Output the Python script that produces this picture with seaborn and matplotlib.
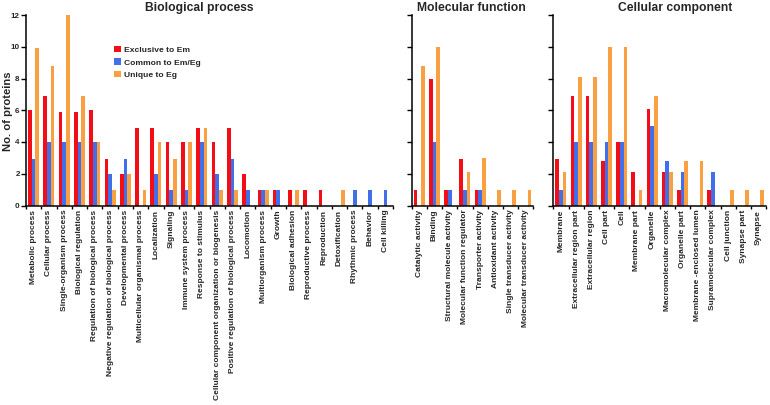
import numpy as np
import pandas as pd
import matplotlib
matplotlib.use("Agg")
import matplotlib.pyplot as plt
import seaborn as sns
from matplotlib.patches import Patch

# GO categories and protein counts
bp_terms = ["Metabolic process", "Cellular process", "Single-organism process",
            "Biological regulation", "Regulation of biological process",
            "Negative regulation of biological process", "Developmental process",
            "Multicellular organismal process", "Localization", "Signaling",
            "Immune system process", "Response to stimulus",
            "Cellular component organization or biogenesis",
            "Positive regulation of biological process", "Locomotion",
            "Multiorganism process", "Growth", "Biological adhesion",
            "Reproductive process", "Reproduction", "Detoxification",
            "Rhythmic process", "Behavior", "Cell killing"]
bp_em = [6, 6.9, 5.9, 5.9, 6, 2.9, 2, 4.9, 4.9, 4, 4, 4.9, 4, 4.9, 2, 1, 1, 1, 1, 1, 0, 0, 0, 0]
bp_common = [2.9, 4, 4, 4, 4, 2, 2.9, 0, 2, 1, 1, 4, 2, 2.9, 1, 1, 1, 0, 0, 0, 0, 1, 1, 1]
bp_eg = [9.9, 8.8, 12, 6.9, 4, 1, 2, 1, 4, 2.9, 4, 4.9, 1, 1, 0, 1, 0, 1, 0, 0, 1, 0, 0, 0]

mf_terms = ["Catalytic activity", "Binding", "Structural molecule activity",
            "Molecular function regulator", "Transporter activity",
            "Antioxidant activity", "Single transducer activity",
            "Molecular transducer activity"]
mf_em = [1, 8, 1, 2.9, 1, 0, 0, 0]
mf_common = [0, 4, 1, 1, 1, 0, 0, 0]
mf_eg = [8.8, 10, 0, 2.1, 3, 1, 1, 1]

cc_terms = ["Membrane", "Extracellular region part", "Extracellular region",
            "Cell part", "Cell", "Membrane part", "Organelle",
            "Macromolecular complex", "Organelle part", "Membrane -enclosed lumen",
            "Supramolecular complex", "Cell junction", "Synapse part", "Synapse"]
cc_em = [2.9, 6.9, 6.9, 2.8, 4, 2.1, 6.1, 2.1, 1, 0, 1, 0, 0, 0]
cc_common = [1, 4, 4, 4, 4, 0, 5, 2.8, 2.1, 0, 2.1, 0, 0, 0]
cc_eg = [2.1, 8.1, 8.1, 10, 10, 1, 6.9, 2.1, 2.8, 2.8, 0, 1, 1, 1]

series = ["Exclusive to Em", "Common to Em/Eg", "Unique to Eg"]
colors = ["#F20D17", "#416EEB", "#F9A043"]

sns.set_style("ticks")
plt.rcParams["font.family"] = ["Liberation Sans", "DejaVu Sans"]
plt.rcParams["font.weight"] = "bold"


def long_table(terms, em, common, eg):
    rows = []
    for name, vals in zip(series, (em, common, eg)):
        for t, v in zip(terms, vals):
            rows.append({"term": t, "group": name, "count": v})
    return pd.DataFrame(rows)


def draw_panel(ax, terms, em, common, eg, show_y):
    df = long_table(terms, em, common, eg)
    n = len(terms)
    sns.barplot(data=df, x="term", y="count", hue="group", order=terms,
                hue_order=series, palette=colors, width=0.72, errorbar=None,
                saturation=1, linewidth=0, legend=False, ax=ax)
    ax.set_xlim(-0.5, n - 0.5)
    ax.set_ylim(0, 12)
    ax.set_yticks(range(0, 13, 2))
    ax.set_xlabel("")
    ax.set_ylabel("")
    for s in ("top", "right"):
        ax.spines[s].set_visible(False)
    for s in ("left", "bottom"):
        ax.spines[s].set_linewidth(1.1)
        ax.spines[s].set_color("black")
    ax.set_xticks(range(n))
    ax.set_xticklabels(terms, rotation=90, fontsize=6.0, fontweight="bold")
    ax.set_xticks(np.arange(-0.5, n), minor=True)
    ax.tick_params(axis="x", which="major", length=0, pad=3)
    ax.tick_params(axis="x", which="minor", length=2.5, width=1, color="black")
    ax.tick_params(axis="y", length=3.5, width=1, color="black", pad=1,
                   labelsize=5.8)
    if show_y:
        for lab in ax.get_yticklabels():
            lab.set_fontweight("bold")
    else:
        ax.set_yticklabels([])


fig = plt.figure(figsize=(7.7, 4.05), dpi=100)
bottom = (405 - 205.5) / 405
height = 190.5 / 405
ax_bp = fig.add_axes([26 / 770, bottom, 367 / 770, height])
ax_mf = fig.add_axes([411.7 / 770, bottom, 121.6 / 770, height])
ax_cc = fig.add_axes([553.3 / 770, bottom, 212.8 / 770, height])

draw_panel(ax_bp, bp_terms, bp_em, bp_common, bp_eg, True)
draw_panel(ax_mf, mf_terms, mf_em, mf_common, mf_eg, False)
draw_panel(ax_cc, cc_terms, cc_em, cc_common, cc_eg, False)

handles = [Patch(facecolor=c, edgecolor="none", label=s) for c, s in zip(colors, series)]
ax_bp.legend(handles=handles, loc="upper left", bbox_to_anchor=(0.228, 0.86),
             frameon=False, handlelength=0.8, handleheight=0.8,
             handletextpad=0.4, labelspacing=0.5, borderpad=0,
             prop={"weight": "bold", "size": 6.1})

fig.text(199 / 770, 1 - 8 / 405, "Biological process", ha="center", va="center",
         fontsize=8.7, fontweight="bold")
fig.text(471.5 / 770, 1 - 8 / 405, "Molecular function", ha="center", va="center",
         fontsize=8.7, fontweight="bold")
fig.text(675 / 770, 1 - 8 / 405, "Cellular component", ha="center", va="center",
         fontsize=8.7, fontweight="bold")
fig.text(8 / 770, 1 - 111 / 405, "No. of proteins", rotation=90, ha="center",
         va="center", fontsize=8.1, fontweight="bold")

fig.savefig("out.png", dpi=100)
